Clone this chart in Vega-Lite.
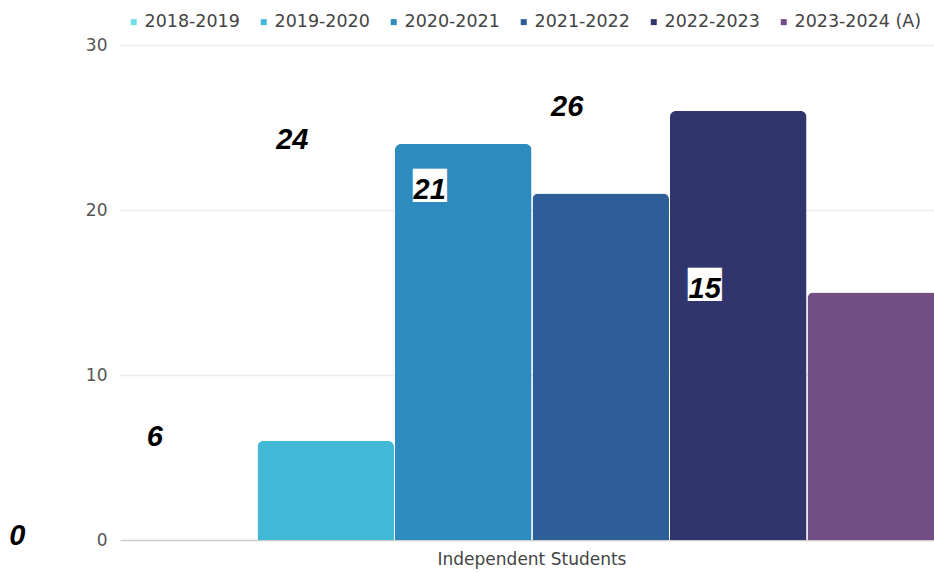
{
  "$schema": "https://vega.github.io/schema/vega-lite/v6.json",
  "autosize": {"type": "none"},
  "width": 814,
  "height": 495,
  "padding": {"left": 120, "top": 45, "right": 0, "bottom": 32},
  "background": "white",
  "config": {
    "view": {"stroke": null},
    "font": "DejaVu Sans"
  },
  "data": {
    "values": [
      {"category": "Independent Students", "year": "2018-2019", "value": 0},
      {"category": "Independent Students", "year": "2019-2020", "value": 6},
      {"category": "Independent Students", "year": "2020-2021", "value": 24},
      {"category": "Independent Students", "year": "2021-2022", "value": 21},
      {"category": "Independent Students", "year": "2022-2023", "value": 26},
      {"category": "Independent Students", "year": "2023-2024 (A)", "value": 15}
    ]
  },
  "encoding": {
    "x": {
      "field": "category",
      "type": "nominal",
      "scale": {"range": [0, 824], "paddingInner": 0, "paddingOuter": 0},
      "axis": {
        "title": null,
        "labelAngle": 0,
        "ticks": false,
        "domain": false,
        "labelPadding": 11,
        "labelFontSize": 17,
        "labelLimit": 500,
        "labelColor": "#444444",
        "labelFont": "DejaVu Sans"
      }
    },
    "xOffset": {
      "field": "year",
      "type": "nominal",
      "scale": {"paddingInner": 0.007, "paddingOuter": 0}
    },
    "y": {
      "field": "value",
      "type": "quantitative",
      "scale": {"domain": [0, 30], "nice": false},
      "axis": {
        "title": null,
        "values": [0, 10, 20, 30],
        "ticks": false,
        "domain": false,
        "labelPadding": 13,
        "labelFontSize": 17,
        "labelColor": "#555555",
        "labelFont": "DejaVu Sans",
        "gridColor": {"condition": {"test": "datum.value === 0", "value": "#cccccc"}, "value": "#ebebeb"},
        "gridWidth": 1.5
      }
    }
  },
  "layer": [
    {
      "mark": {"type": "bar", "cornerRadiusTopLeft": 6, "cornerRadiusTopRight": 6},
      "encoding": {
        "color": {
          "field": "year",
          "type": "nominal",
          "scale": {
            "domain": ["2018-2019", "2019-2020", "2020-2021", "2021-2022", "2022-2023", "2023-2024 (A)"],
            "range": ["#6FDDE6", "#41B8D5", "#2E8BC0", "#2E5E98", "#31356E", "#724E84"]
          },
          "legend": {
            "title": null,
            "orient": "none",
            "direction": "horizontal",
            "legendX": 5,
            "legendY": -32,
            "symbolType": "square",
            "symbolSize": 36,
            "symbolStrokeWidth": 0,
            "labelFontSize": 17.5,
            "labelFont": "DejaVu Sans",
            "labelColor": "#444444",
            "labelOffset": 2,
            "columnPadding": 15
          }
        }
      }
    },
    {
      "mark": {
        "type": "text",
        "text": "██",
        "font": "DejaVu Sans Mono",
        "fontSize": 28,
        "color": "white",
        "dx": -171,
        "dy": 1,
        "baseline": "alphabetic",
        "align": "center"
      }
    },
    {
      "mark": {
        "type": "text",
        "font": "Liberation Sans",
        "fontWeight": "bold",
        "fontStyle": "italic",
        "fontSize": 29,
        "color": "black",
        "dx": -171,
        "dy": 5,
        "baseline": "alphabetic",
        "align": "center"
      },
      "encoding": {
        "text": {"field": "value", "type": "quantitative"}
      }
    }
  ]
}
